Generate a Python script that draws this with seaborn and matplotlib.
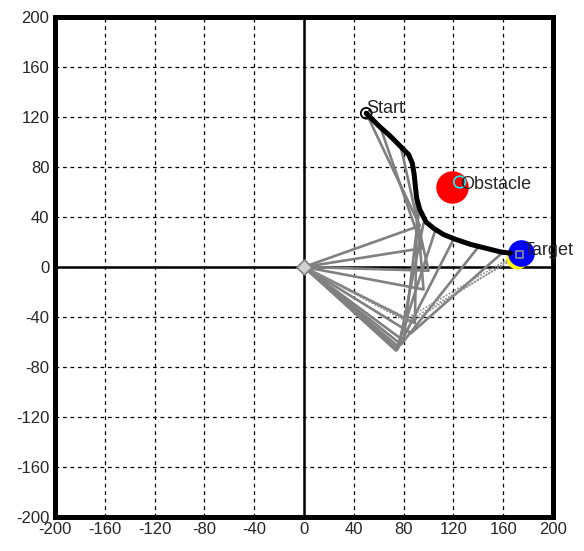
import matplotlib
matplotlib.use("Agg")
import matplotlib.pyplot as plt
import numpy as np
import pandas as pd
import seaborn as sns

# end-effector path (black)
path_x = [50, 53, 60, 69, 78, 84, 87, 88.5, 89.5, 90.5, 93, 98, 104, 112, 122, 134, 146, 158, 166]
path_y = [123, 120, 113, 105, 96, 90, 83, 74, 64, 55, 46, 36, 31, 26, 22, 18, 15, 12, 11]

# arm snapshots: base (0,0) -> elbow -> end point
elbow_x = [93, 95, 100, 96, 89, 80, 76, 74, 75, 78, 86, 85, 84, 83]
elbow_y = [33, 15, -3, -18, -45, -59, -64, -67, -66, -62, -53, -45, -43, -41]
end_x = [50, 62, 78, 88, 91, 92, 96, 105, 120, 140, 160, 172, 173, 172]
end_y = [123, 110, 95, 78, 55, 42, 35, 28, 22, 16, 12, 10, 9, 11]
arm_style = ["solid"] * 11 + ["dotted"] * 3

start_xy = (50, 123)
obstacle_xy = (119, 64)
target_xy = (173, 10)

ticks = [-200, -160, -120, -80, -40, 0, 40, 80, 120, 160, 200]

rows = []
for i, (ex, ey, px, py) in enumerate(zip(elbow_x, elbow_y, end_x, end_y)):
    for x, y in [(0, 0), (ex, ey), (px, py)]:
        rows.append({"snap": i, "x": x, "y": y, "style": arm_style[i]})
arms = pd.DataFrame(rows)
path = pd.DataFrame({"x": path_x, "y": path_y})

sns.set_style("white")
plt.rcParams["font.family"] = ["Liberation Sans", "DejaVu Sans"]
plt.rcParams["axes.unicode_minus"] = False

fig = plt.figure(figsize=(5.84, 5.51), dpi=100)
ax = fig.add_axes([0.094, 0.062, 0.853, 0.907])

ax.set_xlim(-200, 200)
ax.set_ylim(-200, 200)
ax.set_xticks(ticks)
ax.set_yticks(ticks)
ax.grid(True, color="black", linestyle=(0, (3, 3)), linewidth=0.9)
ax.axhline(0, color="black", linewidth=1.8, zorder=1)
ax.axvline(0, color="black", linewidth=1.8, zorder=1)

solid = arms[arms["style"] == "solid"]
dotted = arms[arms["style"] == "dotted"]
sns.lineplot(data=solid, x="x", y="y", units="snap", estimator=None, sort=False,
             color="#808080", linewidth=1.9, ax=ax, zorder=2)
sns.lineplot(data=dotted, x="x", y="y", units="snap", estimator=None, sort=False,
             color="#8c8c8c", linewidth=1.2, linestyle=(0, (1, 1)), ax=ax, zorder=2)

sns.lineplot(data=path, x="x", y="y", sort=False, color="black", linewidth=3.6,
             ax=ax, zorder=4)

# base joint
ax.scatter([0], [0], s=60, marker="D", facecolor="#d0d0d0", edgecolor="#808080",
           linewidth=1.2, zorder=5)

# obstacle
ax.scatter([obstacle_xy[0]], [obstacle_xy[1]], s=500, color="red", zorder=3)
ax.scatter([obstacle_xy[0] + 6], [obstacle_xy[1] + 4], s=70, facecolor="none",
           edgecolor="cyan", linewidth=1.2, zorder=6)
ax.text(obstacle_xy[0] + 6, obstacle_xy[1] + 2, "Obstacle", fontsize=13,
        va="center", ha="left", zorder=7)

# target
ax.scatter([target_xy[0] - 2], [target_xy[1] - 3], s=220, color="yellow", zorder=3)
ax.scatter([target_xy[0] + 1], [target_xy[1] + 1], s=330, color="blue", zorder=3)
ax.scatter([target_xy[0]], [target_xy[1]], s=25, marker="s", facecolor="none",
           edgecolor="#909090", linewidth=1.2, zorder=6)
ax.text(target_xy[0] + 3, target_xy[1] + 3, "Target", fontsize=13,
        va="center", ha="left", zorder=7)

# start
ax.scatter([start_xy[0]], [start_xy[1]], s=60, facecolor="none", edgecolor="black",
           linewidth=1.3, zorder=6)
ax.scatter([start_xy[0]], [start_xy[1]], s=6, color="black", zorder=6)
ax.text(start_xy[0], start_xy[1] + 4, "Start", fontsize=13, va="center",
        ha="left", zorder=7)

ax.set_xlabel("")
ax.set_ylabel("")
ax.tick_params(length=0, labelsize=12, pad=4)
for s in ax.spines.values():
    s.set_visible(True)
    s.set_color("black")
    s.set_linewidth(3.6)

fig.savefig("out.png", dpi=100, facecolor="white")
